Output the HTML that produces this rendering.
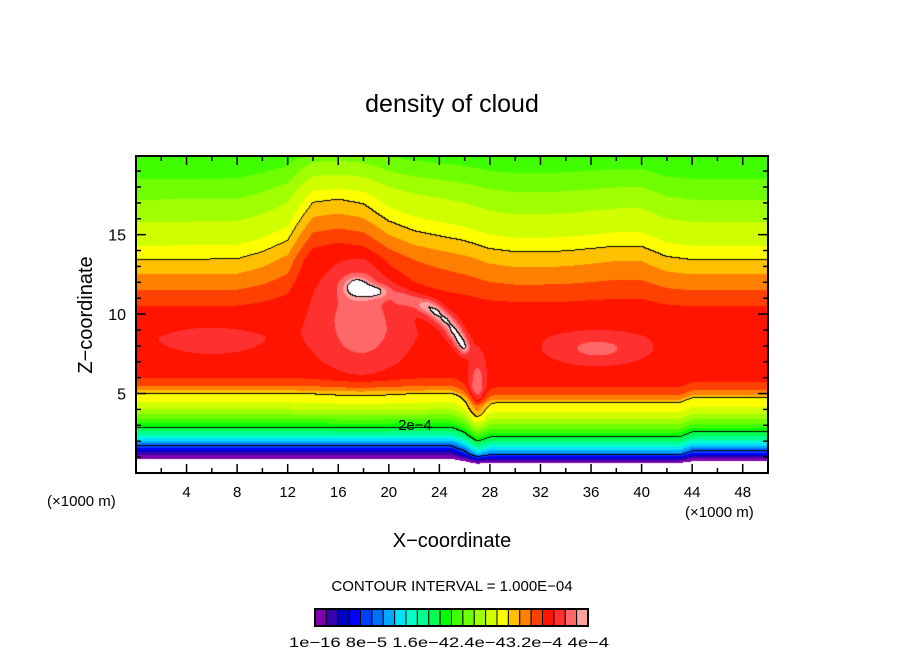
<!DOCTYPE html>
<html><head><meta charset="utf-8"><style>
html,body{margin:0;padding:0;background:#fff;}
#wrap{position:relative;width:904px;height:654px;overflow:hidden;font-family:"Liberation Sans",sans-serif;}
#field{position:absolute;left:136px;top:156px;}
#ov{position:absolute;left:0;top:0;}
</style></head><body>
<div id="wrap">
<canvas id="field" width="632" height="317"></canvas>
<svg id="ov" width="904" height="654">
<text x="452" y="112" text-anchor="middle" font-size="25">density of cloud</text>
<rect x="136" y="156" width="632" height="317" fill="none" stroke="#000" stroke-width="2"/>
<g id="ticks"></g>
<text x="47" y="506" font-size="15">(×1000 m)</text>
<text x="685" y="517" font-size="15">(×1000 m)</text>
<text x="452" y="547" text-anchor="middle" font-size="20">X−coordinate</text>
<text transform="translate(92,315) rotate(-90)" text-anchor="middle" font-size="20">Z−coordinate</text>
<text x="415" y="430" text-anchor="middle" font-size="15">2e−4</text>
<text x="452" y="591" text-anchor="middle" font-size="15">CONTOUR INTERVAL = 1.000E−04</text>
<g id="cbar"></g>
<text x="449" y="647" text-anchor="middle" font-size="14" textLength="320" lengthAdjust="spacingAndGlyphs">1e−16 8e−5 1.6e−42.4e−43.2e−4 4e−4</text>
</svg>
</div>
<script>
const colors=['#8000b0','#3800b0','#0000c8','#0000ff','#0040ff','#0070ff','#00a8ff','#00e0ff','#00ffc8','#00ff90','#00ff50','#00ff00','#40ff00','#70ff00','#a0ff00','#d0ff00','#ffff00','#ffc000','#ff8000','#ff4000','#ff1400','#ff3030','#ff6868','#ffa0a0'];
const levels=[0.17,0.33,0.5,0.67,0.83,1.0,1.17,1.33,1.5,1.67,1.83,2.0,2.17,2.33,2.5,2.67,2.83,3.0,3.17,3.33,3.5,3.62,3.75,3.88];
const contourLevels=[1,2,3,4];
const profZ=[0,0.85,0.9,1.1,1.3,1.5,1.67,1.9,2.1,2.4,2.85,3.5,4.0,4.5,5.0,5.2,5.5,6.0,7.0,8.5,10.0,10.5,11.5,12.5,13.4,14.3,15.8,17.2,18.5,20.0];
const profV=[-0.5,-0.05,0.17,0.3,0.5,0.75,1.0,1.2,1.4,1.67,2.0,2.4,2.67,2.85,3.0,3.17,3.33,3.5,3.55,3.58,3.54,3.5,3.33,3.17,3.0,2.83,2.67,2.5,2.33,2.2];
const liftX=[0,8,10,12,13,14,16,18,20,22,24,26,28,30,32,34,36,38,40,42,44,50];
const liftV=[0,0.05,0.5,1.2,2.5,3.6,3.8,3.5,2.4,1.8,1.5,1.2,0.7,0.5,0.5,0.55,0.7,0.85,0.85,0.2,0,0];
const lowX=[0,25,26,27,28,43,44,50];
const lowV=[0,0,-0.3,-0.8,-0.6,-0.6,-0.3,-0.3];
const blobX=[17.8,17.5,19.0,21.0,22.0,23.0,23.8,24.5,25.1,25.6,26.0,27.0,36.5,6.0];
const blobZ=[9.5,11.7,11.4,11.0,10.8,10.5,10.1,9.6,9.0,8.4,7.9,5.0,7.8,8.3];
const blobSX=[2.4,0.8,0.8,0.5,0.5,0.5,0.45,0.45,0.4,0.35,0.3,0.5,2.6,3.2];
const blobSZ=[2.6,0.5,0.3,0.35,0.35,0.35,0.35,0.35,0.4,0.4,0.35,1.5,0.7,0.8];
const blobA=[0.25,0.42,0.32,0.18,0.2,0.36,0.38,0.38,0.38,0.38,0.36,0.35,0.22,0.1];

function interp(xs,vs,x){if(x<=xs[0])return vs[0];for(let i=1;i<xs.length;i++){if(x<=xs[i]){const t=(x-xs[i-1])/(xs[i]-xs[i-1]);return vs[i-1]+t*(vs[i]-vs[i-1]);}}return vs[vs.length-1];}
function clamp(a,b,c){return Math.max(b,Math.min(c,a));}
function value(x,z){
  const L=interp(liftX,liftV,x);let w=clamp((z-8)/5.4,0,1);w*=clamp(1-(z-17.5)/6,0.4,1);
  const S=interp(lowX,lowV,x);const wl=clamp((8-z)/2,0,1)*clamp((z-0.2)/1.0,0,1);
  const zz=z-L*w-S*wl;
  let v=interp(profZ,profV,zz);
  for(let i=0;i<blobX.length;i++){const dx=(x-blobX[i])/blobSX[i],dz=(z-blobZ[i])/blobSZ[i];v+=blobA[i]*Math.exp(-0.5*(dx*dx+dz*dz));}
  return v;
}
const X0=0,X1=50,Z0=0,Z1=19.95,PL=136,PT=156,PW=632,PH=317;
function sx(x){return PL+(x-X0)/(X1-X0)*PW;}
function sy(z){return PT+PH-(z-Z0)/(Z1-Z0)*PH;}
const cv=document.getElementById('field');const ctx=cv.getContext('2d');
const img=ctx.createImageData(PW,PH);
const vals=new Float32Array(PW*PH);
for(let j=0;j<PH;j++)for(let i=0;i<PW;i++){vals[j*PW+i]=value((i+0.5)/PW*(X1-X0)+X0,Z1-(j+0.5)/PH*(Z1-Z0));}
function hex(c){return [parseInt(c.substr(1,2),16),parseInt(c.substr(3,2),16),parseInt(c.substr(5,2),16)];}
const rgb=colors.map(hex);
function cls(v){let c=0;for(const l of contourLevels)if(v>=l)c++;return c;}
for(let j=0;j<PH;j++)for(let i=0;i<PW;i++){
  const v=vals[j*PW+i];let col=[255,255,255];
  if(v>=levels[0]&&v<4.0){let k=0;for(let q=0;q<levels.length;q++)if(v>=levels[q])k=q;col=rgb[k];}
  const c=cls(v);let black=false;
  if(i<PW-1&&cls(vals[j*PW+i+1])!==c)black=true;
  if(j<PH-1&&cls(vals[(j+1)*PW+i])!==c)black=true;
  if(black)col=[0,0,0];
  const p=(j*PW+i)*4;img.data[p]=col[0];img.data[p+1]=col[1];img.data[p+2]=col[2];img.data[p+3]=255;
}
ctx.putImageData(img,0,0);
const NS='http://www.w3.org/2000/svg';
const tg=document.getElementById('ticks');
function line(x1,y1,x2,y2,w){const l=document.createElementNS(NS,'line');l.setAttribute('x1',x1);l.setAttribute('y1',y1);l.setAttribute('x2',x2);l.setAttribute('y2',y2);l.setAttribute('stroke','#000');l.setAttribute('stroke-width',w||1.5);


tg.appendChild(l);}
function txt(x,y,s,anchor,size){const t=document.createElementNS(NS,'text');t.setAttribute('x',x);t.setAttribute('y',y);t.setAttribute('text-anchor',anchor);t.setAttribute('font-size',size);t.textContent=s;


tg.appendChild(t);}
for(let x=2;x<50;x+=2){const maj=x%4===0;const L=maj?9:5;const X=sx(x);line(X,PT,X,PT+L);line(X,PT+PH,X,PT+PH-L);if(maj)txt(X,497,String(x),'middle',15);}
for(let z=1;z<20;z++){const maj=z%5===0;const L=maj?10:5;const Y=sy(z);line(PL,Y,PL+L,Y);line(PL+PW,Y,PL+PW-L,Y);if(maj)txt(126,Y+6,String(z),'end',16);}
const cb=document.getElementById('cbar');const cbx=315,cby=609,cbw=273,cbh=17;const bw=cbw/colors.length;
colors.forEach((c,k)=>{const r=document.createElementNS(NS,'rect');r.setAttribute('x',cbx+k*bw);r.setAttribute('y',cby);r.setAttribute('width',bw);r.setAttribute('height',cbh);r.setAttribute('fill',c);r.setAttribute('stroke','#000');r.setAttribute('stroke-width','1');


cb.appendChild(r);});
const fr=document.createElementNS(NS,'rect');fr.setAttribute('x',cbx);fr.setAttribute('y',cby);fr.setAttribute('width',cbw);fr.setAttribute('height',cbh);fr.setAttribute('fill','none');fr.setAttribute('stroke','#000');fr.setAttribute('stroke-width','2');


cb.appendChild(fr);
</script>
</body></html>
